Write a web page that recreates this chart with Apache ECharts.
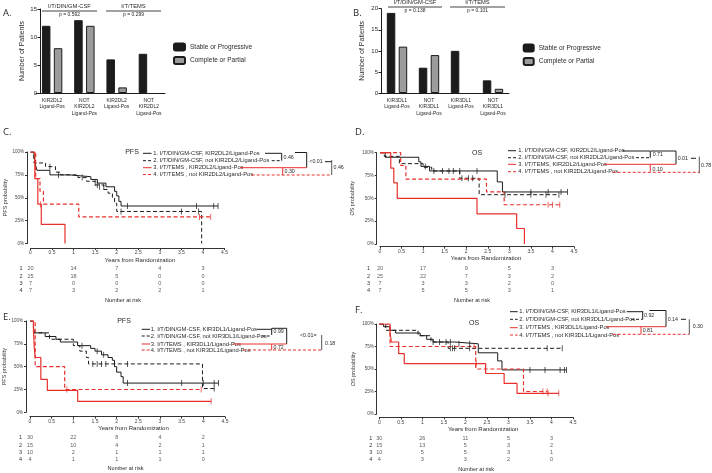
<!DOCTYPE html>
<html><head><meta charset="utf-8">
<script src="https://cdn.jsdelivr.net/npm/echarts@6/dist/echarts.min.js"></script>
<style>html,body{margin:0;padding:0;background:#fff}#c{width:712px;height:473px}</style>
</head><body><div id="c"></div>
<script>
// ---------- DATA ----------
const catsA = ['KIR2DL2\nLigand-Pos', 'NOT\nKIR2DL2\nLigand-Pos', 'KIR2DL2\nLigand-Pos ', 'NOT\nKIR2DL2\nLigand-Pos '];
const stableA = [12, 13, 6, 7];
const responseA = [8, 12, 1, 0];
const catsB = ['KIR3DL1\nLigand-Pos', 'NOT\nKIR3DL1\nLigand-Pos', 'KIR3DL1\nLigand-Pos ', 'NOT\nKIR3DL1\nLigand-Pos '];
const stableB = [19, 6, 10, 3];
const responseB = [11, 9, 0, 1];
const barSeriesNames = ['Stable or Progressive', 'Complete or Partial'];
const groupA = ['I/T/DIN/GM-CSF', 'I/T/TEMS'];
const pA = ['p = 0.592', 'p = 0.299'];
const pB = ['p = 0.138', 'p = 0.101'];

// Panel C: PFS, KIR2DL2
const cPFS1 = [[0,100],[0.08,95],[0.1,90],[0.12,85],[0.15,80],[0.45,75],[0.9,73],[1.4,70],[1.55,66],[1.75,62],[1.95,57],[2.0,52],[2.05,46],[2.1,41],[4.35,41]];
const cPFS2 = [[0,100],[0.08,88],[0.35,84],[0.58,78],[0.7,75],[1.1,72],[1.3,68],[1.5,64],[1.7,59],[1.8,55],[1.9,50],[1.95,44],[2.0,35],[3.97,0]];
const cPFS3 = [[0,100],[0.1,71],[0.17,43],[0.25,21],[0.8,0]];
const cPFS4 = [[0,100],[0.12,71],[0.22,57],[0.3,43],[1.12,29],[4.18,29]];
const cCens1 = [[0.65,75],[1.5,66],[1.6,62],[1.7,62],[2.25,41],[3.85,41],[4.25,41],[4.35,41]];
const cCens2 = [[0.45,84],[1.2,72],[1.55,64],[2.1,35],[3.5,35],[3.9,35]];
const cCens3 = [[0.23,43]];
const cCens4 = [[3.92,29],[4.18,29]];
const riskC = [[20,14,7,4,3],[25,18,5,0,0],[7,0,0,0,0],[7,3,2,2,1]];

// Panel D: OS, KIR2DL2
const dOS1 = [[0,100],[0.12,95],[0.9,90],[0.95,85],[1.15,80],[2.72,68],[2.84,57],[4.35,57]];
const dOS2 = [[0,100],[0.1,96],[0.45,88],[1.0,84],[1.2,80],[1.85,72],[2.3,54],[4.15,54]];
const dOS3 = [[0,100],[0.25,83],[0.32,67],[0.4,50],[2.25,33],[3.17,17],[3.35,0]];
const dOS4 = [[0,100],[0.48,86],[0.6,71],[2.47,57],[2.88,43],[4.17,43]];
const dCens1 = [[1.05,85],[1.6,80],[1.7,80],[1.85,80],[2.25,80],[3.5,57],[3.9,57],[4.2,57],[4.35,57]];
const dCens2 = [[1.25,80],[1.45,80],[1.9,72],[2.05,72],[2.15,72],[2.9,54],[3.5,54],[3.85,54],[4.15,54]];
const dCens3 = [];
const dCens4 = [[3.9,43],[4.0,43],[4.17,43]];
const riskD = [[20,17,9,5,3],[25,22,7,3,2],[7,3,3,2,0],[7,5,5,3,1]];

// Panel E: PFS, KIR3DL1
const ePFS1 = [[0,100],[0.08,93],[0.1,87],[0.35,83],[0.6,80],[0.7,77],[1.1,73],[1.4,70],[1.5,67],[1.65,63],[1.8,60],[1.9,57],[1.95,50],[2.0,44],[2.1,39],[2.15,32],[4.35,32]];
const ePFS2 = [[0,100],[0.08,93],[0.1,87],[0.45,80],[1.0,73],[1.15,67],[1.3,60],[1.35,53],[3.98,26],[4.3,26]];
const ePFS3 = [[0,100],[0.08,90],[0.1,70],[0.12,60],[0.25,36],[0.4,24],[1.1,12],[4.18,12]];
const ePFS4 = [[0,100],[0.12,50],[0.8,25],[3.95,25]];
const eCens1 = [[1.2,73],[1.55,67],[1.7,63],[2.25,32],[3.5,32],[4.0,32],[4.25,32],[4.35,32]];
const eCens2 = [[1.45,53],[1.55,53],[1.65,53],[1.75,53],[2.25,53],[4.25,26]];
const eCens3 = [[4.18,12]];
const eCens4 = [[0.85,25],[3.95,25]];
const riskE = [[30,22,8,4,2],[15,10,4,2,1],[10,2,1,1,1],[4,1,1,1,0]];

// Panel F: OS, KIR3DL1
const fOS1 = [[0,100],[0.1,97],[0.25,93],[0.38,90],[0.95,87],[1.1,83],[1.25,80],[1.75,78],[2.3,68],[2.75,59],[2.85,49],[4.35,49]];
const fOS2 = [[0,100],[0.15,93],[0.9,87],[1.2,80],[1.6,73],[4.25,73]];
const fOS3 = [[0,100],[0.25,90],[0.28,80],[0.45,67],[0.58,56],[2.47,45],[2.9,34],[3.2,23],[4.17,23]];
const fOS4 = [[0,100],[0.25,75],[2.24,50],[3.35,25],[3.9,25]];
const fCens1 = [[1.25,80],[1.4,80],[1.55,80],[1.65,80],[1.85,78],[2.1,78],[3.5,49],[3.85,49],[4.2,49],[4.3,49],[4.35,49]];
const fCens2 = [[1.65,73],[1.7,73],[1.75,73],[2.1,73],[3.9,73],[4.25,73]];
const fCens3 = [[2.25,56],[3.92,23],[4.17,23]];
const fCens4 = [[2.2,75],[3.8,25],[3.9,25]];
const riskF = [[30,26,11,5,3],[15,13,5,3,2],[10,5,5,3,1],[4,3,3,2,0]];

const riskTimes = [0, 1, 2, 3, 4];
const riskRowLabels = ['1', '2', '3', '4'];
const legC = ['1. I/T/DIN/GM-CSF, KIR2DL2/Ligand-Pos', '2. I/T/DIN/GM-CSF, not KIR2DL2/Ligand-Pos', '3. I/T/TEMS , KIR2DL2/Ligand-Pos', '4. I/T/TEMS , not KIR2DL2/Ligand-Pos'];
const legD = ['1. I/T/DIN/GM-CSF, KIR2DL2/Ligand-Pos', '2. I/T/DIN/GM-CSF, not KIR2DL2/Ligand-Pos', '3. I/T/TEMS, KIR2DL2/Ligand-Pos', '4. I/T/TEMS , not KIR2DL2/Ligand-Pos'];
const legE = ['1. I/T/DIN/GM-CSF, KIR3DL1/Ligand-Pos', '2. I/T/DIN/GM-CSF, not KIR3DL1/Ligand-Pos', '3. I/T/TEMS , KIR3DL1/Ligand-Pos', '4. I/T/TEMS , not KIR3DL1/Ligand-Pos'];
const legF = legE;
const pC = ['0.46', '<0.01', '0.30', '0.46'];
const pD = ['0.71', '0.01', '0.10', '0.78'];
const pE = ['0.99', '<0.01=', '0.72', '0.18'];
const pF = ['0.92', '0.14', '0.81', '0.30'];

// ---------- BUILD ----------
const FONT = '"Liberation Sans", Arial, Helvetica, sans-serif';
const BLACK = '#1c1c1c', RED = '#e8302c', GRAY = '#9c9c9c', TXT = '#2a2a2a';
const grids = [], xAxes = [], yAxes = [], series = [], graphics = [];

function T(x, y, s, fs, extra) {
  graphics.push({type: 'text', x: x, y: y, silent: true,
    style: Object.assign({text: s, fontSize: fs, fontFamily: FONT, fill: TXT,
      align: 'left', verticalAlign: 'middle', textAlign: 'left', textVerticalAlign: 'middle'}, extra || {})});
}
function L(x1, y1, x2, y2, color, dash) {
  graphics.push({type: 'line', silent: true, shape: {x1: x1, y1: y1, x2: x2, y2: y2},
    style: {stroke: color, lineWidth: 1, lineDash: dash ? [3, 2] : null}});
}
// zero-height bars get no outline (as in the original, nothing is drawn)
const barData = arr => arr.map(v => v === 0 ? {value: v, itemStyle: {borderWidth: 0, opacity: 0}} : v);

function barPanel(g, cats, stable, resp, ymax, off, nameGap) {
  const gi = grids.length;
  grids.push(g);
  xAxes.push({type: 'category', gridIndex: gi, data: cats,
    axisLine: {lineStyle: {color: BLACK, width: 1}},
    axisTick: {alignWithLabel: true, length: 2.5, lineStyle: {color: BLACK}},
    axisLabel: {fontSize: 5, color: TXT, fontFamily: FONT, lineHeight: 6.5, margin: 4, interval: 0, formatter: v => v.trim()}});
  yAxes.push({type: 'value', gridIndex: gi, min: 0, max: ymax, interval: 5, offset: off,
    name: 'Number of Patients', nameLocation: 'middle', nameGap: nameGap,
    nameTextStyle: {fontSize: 7, fontFamily: FONT, color: TXT},
    axisLine: {show: true, onZero: false, lineStyle: {color: BLACK}},
    axisTick: {show: true, length: 2.5, lineStyle: {color: BLACK}},
    axisLabel: {fontSize: 6, color: TXT, margin: 3},
    splitLine: {show: false}});
  series.push({type: 'bar', name: barSeriesNames[0], xAxisIndex: gi, yAxisIndex: gi, data: barData(stable),
    barWidth: 8.5, barGap: '40%', itemStyle: {color: BLACK, borderColor: BLACK, borderWidth: 1}});
  series.push({type: 'bar', name: barSeriesNames[1], xAxisIndex: gi, yAxisIndex: gi, data: barData(resp),
    barWidth: 8.5, barGap: '40%', itemStyle: {color: GRAY, borderColor: BLACK, borderWidth: 1}});
}

function kmPanel(p) {
  const gi = grids.length;
  grids.push({left: p.left, top: p.top, width: p.width, height: p.height});
  xAxes.push({type: 'value', gridIndex: gi, min: 0, max: 4.5, interval: 0.5, offset: p.xOff,
    name: 'Years from Randomization', nameLocation: 'middle', nameGap: p.xNameGap,
    nameTextStyle: {fontSize: 6, color: TXT, fontFamily: FONT, padding: p.xNamePad},
    axisLine: {show: true, onZero: false, lineStyle: {color: '#333', width: 1}},
    axisTick: {show: true, length: 2, lineStyle: {color: '#333'}},
    axisLabel: {fontSize: 5, color: '#444', margin: 2.5, formatter: v => String(v)},
    splitLine: {show: false}});
  yAxes.push({type: 'value', gridIndex: gi, min: 0, max: 100, interval: 25, offset: p.yOff,
    name: p.yName, nameLocation: 'middle', nameGap: p.yNameGap,
    nameTextStyle: {fontSize: 5.5, color: '#333', fontFamily: FONT},
    axisLine: {show: true, onZero: false, lineStyle: {color: '#333'}},
    axisTick: {show: true, length: 2, lineStyle: {color: '#333'}},
    axisLabel: {fontSize: 4.5, color: '#444', margin: 3, formatter: '{value}%'},
    splitLine: {show: false}});
  const styles = [[BLACK, 'solid'], [BLACK, [4, 2.5]], [RED, 'solid'], [RED, [4, 2.5]]];
  p.curves.forEach((c, i) => {
    series.push({type: 'line', xAxisIndex: gi, yAxisIndex: gi, data: c, step: 'end', symbol: 'none',
      silent: true, lineStyle: {color: styles[i][0], width: i >= 2 ? 1.2 : 1, type: styles[i][1]}, z: i >= 2 ? 3 : 2});
    if (p.cens[i].length) {
      series.push({type: 'scatter', xAxisIndex: gi, yAxisIndex: gi, data: p.cens[i], symbol: 'rect',
        symbolSize: [0.9, 6], silent: true, itemStyle: {color: styles[i][0]}, z: 4});
    }
  });
  const ri = grids.length;
  grids.push({left: p.left, top: p.riskTop, width: p.width, height: p.riskHeight});
  xAxes.push({type: 'value', gridIndex: ri, min: 0, max: 4.5,
    name: 'Number at risk', nameLocation: 'middle', nameGap: p.riskNameGap,
    nameTextStyle: {fontSize: 5.5, color: TXT, fontFamily: FONT, padding: p.riskNamePad},
    axisLine: {show: false}, axisTick: {show: false}, axisLabel: {show: false}, splitLine: {show: false}});
  yAxes.push({type: 'category', gridIndex: ri, data: riskRowLabels, inverse: true,
    axisLine: {show: false}, axisTick: {show: false},
    axisLabel: {fontSize: 5.5, color: '#333', margin: p.riskLabelMargin, interval: 0}});
  series.push({type: 'scatter', xAxisIndex: ri, yAxisIndex: ri, symbolSize: 1, silent: true,
    itemStyle: {color: 'rgba(0,0,0,0)'},
    label: {show: true, position: 'inside', fontSize: 5.5, color: '#333', fontFamily: FONT, formatter: q => String(q.value[2])},
    data: p.risk.flatMap((row, r) => row.map((v, j) => [riskTimes[j], r, v]))});
}

// Panels A, B
barPanel({left: 36, top: 9, width: 129, height: 84}, catsA, stableA, responseA, 15, -4, 14.5);
barPanel({left: 381, top: 8.7, width: 128, height: 84.3}, catsB, stableB, responseB, 20, 0, 15.5);

// Panels C-F
kmPanel({left: 30.5, top: 152, width: 194, height: 91.5, xOff: 4.5, yOff: 3.5, yName: 'PFS probability', yNameGap: 19,
  xNameGap: 9.5, xNamePad: [0, 0, 0, 25], curves: [cPFS1, cPFS2, cPFS3, cPFS4], cens: [cCens1, cCens2, cCens3, cCens4],
  riskTop: 265, riskHeight: 29.3, riskNameGap: 3, riskNamePad: [0, 9, 0, 0], riskLabelMargin: 8, risk: riskC});
kmPanel({left: 380, top: 152.7, width: 194, height: 91.3, xOff: 2.7, yOff: 3.3, yName: 'OS probability', yNameGap: 21.5,
  xNameGap: 9, xNamePad: [0, 0, 0, 18], curves: [dOS1, dOS2, dOS3, dOS4], cens: [dCens1, dCens2, dCens3, dCens4],
  riskTop: 265.3, riskHeight: 29.3, riskNameGap: 3, riskNamePad: [0, 10, 0, 0], riskLabelMargin: 10, risk: riskD});
kmPanel({left: 30, top: 321, width: 195, height: 91.3, xOff: 4.4, yOff: 4, yName: 'PFS probability', yNameGap: 18,
  xNameGap: 8.5, xNamePad: [0, 0, 0, 12], curves: [ePFS1, ePFS2, ePFS3, ePFS4], cens: [eCens1, eCens2, eCens3, eCens4],
  riskTop: 434, riskHeight: 29.3, riskNameGap: 2, riskNamePad: [0, 4, 0, 0], riskLabelMargin: 8, risk: riskE});
kmPanel({left: 379.3, top: 324, width: 193.7, height: 90, xOff: 3.3, yOff: 2.6, yName: 'OS probability', yNameGap: 20.5,
  xNameGap: 9.5, xNamePad: [0, 0, 0, 14], curves: [fOS1, fOS2, fOS3, fOS4], cens: [fCens1, fCens2, fCens3, fCens4],
  riskTop: 435.4, riskHeight: 28.9, riskNameGap: 3, riskNamePad: [0, 0, 0, 0], riskLabelMargin: 7, risk: riskF});

// ---------- ANNOTATIONS ----------
const LF = '"Open Sans", "Liberation Sans", sans-serif';
T(3, 13, 'A.', 9.5, {fontFamily: LF});
T(353, 13, 'B.', 9.5, {fontFamily: LF});
T(3, 132, 'C.', 9.5, {fontFamily: LF});
T(355, 132, 'D.', 9.5, {fontFamily: LF});
T(3, 317, 'E.', 9.5, {fontFamily: LF});
T(355, 310, 'F.', 9.5, {fontFamily: LF});

function bracket(x1, x2, y, title, p) {
  L(x1, y, x2, y, '#444');
  T((x1 + x2) / 2, y - 4.5, title, 5.8, {align: 'center', textAlign: 'center'});
  T((x1 + x2) / 2, y + 4, p, 5, {align: 'center', textAlign: 'center'});
}
bracket(42, 97, 11, groupA[0], pA[0]);
bracket(106, 161, 11, groupA[1], pA[1]);
bracket(388, 442, 7, groupA[0], pB[0]);
bracket(450, 505, 7, groupA[1], pB[1]);

function kmLegend(o) {
  T(o.title[0], o.title[1], o.title[2], 7, {align: 'center', textAlign: 'center'});
  const cols = [[BLACK, false], [BLACK, true], [RED, false], [RED, true]];
  o.rows.forEach((y, i) => {
    L(o.sx[0], y, o.sx[1], y, cols[i][0], cols[i][1]);
    T(o.tx, y, o.texts[i], 5.8);
  });
  o.segs.forEach(s => L(s[0], s[1], s[2], s[3], s[4], s[5]));
  o.ps.forEach((s, i) => T(s[0], s[1], o.pv[i], 5.3));
}
kmLegend({title: [132, 152.5, 'PFS'], rows: [153.3, 160.7, 167.7, 174.5], sx: [143, 151.5], tx: 153.3, texts: legC,
  segs: [[265, 153.3, 281.7, 153.3, BLACK], [281.7, 153.3, 281.7, 160.7, BLACK], [271.7, 160.7, 281.7, 160.7, BLACK, true],
         [295, 152.5, 306.7, 152.5, BLACK], [306.7, 152.5, 306.7, 167.7, BLACK],
         [240, 167.7, 306.7, 167.7, RED], [282.7, 167.7, 282.7, 175, RED],
         [325, 161.7, 331.7, 161.7, BLACK], [331.7, 160, 331.7, 175, '#555'],
         [251.7, 175, 331.7, 175, RED, true]],
  ps: [[283.5, 157.3], [309.3, 161.7], [284.5, 172], [333.5, 167.7]], pv: pC});
kmLegend({title: [477, 153, 'OS'], rows: [150.7, 157.7, 164.3, 171.7], sx: [508, 516], tx: 518.3, texts: legD,
  segs: [[622.7, 151, 650.3, 151, BLACK], [650.3, 151, 650.3, 157.7, BLACK], [636, 157.7, 650.3, 157.7, BLACK, true],
         [651, 151, 676, 151, BLACK], [676, 151, 676, 164.3, BLACK],
         [604, 164.3, 676, 164.3, RED], [650.3, 164.3, 650.3, 171.7, RED],
         [691, 158.3, 696, 158.3, BLACK], [699.3, 156.7, 699.3, 173.3, '#555'],
         [612.7, 172.3, 699.3, 172.3, RED, true]],
  ps: [[652.7, 154.3], [677.7, 158.3], [652.5, 169.3], [701, 166]], pv: pD});
kmLegend({title: [124, 321, 'PFS'], rows: [329.3, 336, 344, 350], sx: [141.7, 150], tx: 150.7, texts: legE,
  segs: [[256.7, 329.3, 271.7, 329.3, BLACK], [271.7, 328.3, 271.7, 335, BLACK], [261.7, 336, 271.7, 336, BLACK, true],
         [271.7, 328.3, 286.7, 328.3, BLACK], [286.7, 328.3, 286.7, 344, BLACK],
         [233, 344, 286.7, 344, RED], [271.7, 344, 271.7, 350, RED],
         [321.7, 335, 321.7, 350, '#555'],
         [243, 350, 321.7, 350, RED, true]],
  ps: [[273.5, 331.7], [300, 336], [273.5, 347.3], [325, 343.3]], pv: pE});
kmLegend({title: [474, 323, 'OS'], rows: [311.7, 319.3, 327.7, 335], sx: [510, 517.7], tx: 519.3, texts: legF,
  segs: [[626.7, 311.7, 642.7, 311.7, BLACK], [642.7, 311, 642.7, 319.3, BLACK], [631, 319.3, 642.7, 319.3, BLACK, true],
         [649.3, 310.5, 666, 310.5, BLACK], [666, 310.5, 666, 326.7, BLACK],
         [606, 326.7, 666, 326.7, RED], [641, 327, 641, 334.3, RED],
         [681, 319.3, 686, 319.3, BLACK], [689.3, 319.3, 689.3, 334.3, '#555'],
         [612.7, 334.3, 689.3, 334.3, RED, true]],
  ps: [[644, 316], [667.7, 319.3], [642.7, 330.7], [692.7, 326.7]], pv: pF});

const chart = echarts.init(document.getElementById('c'), null, {renderer: 'canvas'});
chart.setOption({
  animation: false,
  backgroundColor: '#fff',
  textStyle: {fontFamily: FONT},
  grid: grids,
  xAxis: xAxes,
  yAxis: yAxes,
  legend: [
    {left: 168, top: 37.5, orient: 'vertical', itemWidth: 11, itemHeight: 7, itemGap: 4.5, selectedMode: false,
      textStyle: {fontSize: 6.5, color: TXT, fontFamily: FONT}, data: barSeriesNames},
    {left: 517.7, top: 38.5, orient: 'vertical', itemWidth: 10, itemHeight: 7, itemGap: 4.5, selectedMode: false,
      textStyle: {fontSize: 6.5, color: TXT, fontFamily: FONT}, data: barSeriesNames}
  ],
  series: series,
  graphic: graphics
});
</script></body></html>
